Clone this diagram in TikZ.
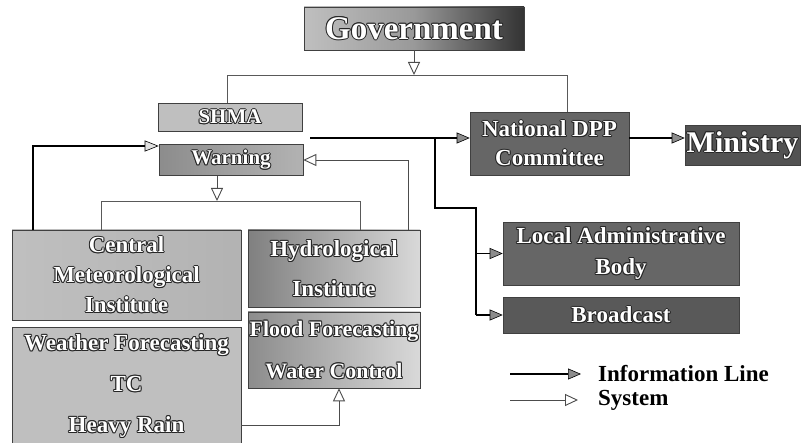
\documentclass[tikz,border=0pt]{standalone}
\usepackage{fontspec}
\setmainfont{Liberation Serif}
\usetikzlibrary{arrows.meta}
\newsavebox\embbox
\newcommand\embc[2]{\rlap{\kern#1\raisebox{#2}{\textcolor{black!85}{\usebox\embbox}}}}
\newcommand\emb[1]{\setbox\embbox\hbox{\bfseries #1}\embc{1pt}{0pt}\embc{-1pt}{0pt}\embc{0pt}{1pt}\embc{0pt}{-1pt}\embc{0.7pt}{0.7pt}\embc{-0.7pt}{0.7pt}\embc{0.7pt}{-0.7pt}\embc{-0.7pt}{-0.7pt}\textcolor{white}{\usebox\embbox}}
\newcommand\fs[2]{\fontsize{#1}{#2}\selectfont}
\tikzset{
  box/.style={draw=black!75, line width=0.6pt, align=center, inner sep=0pt},
  sysline/.style={draw=black!65, line width=0.9pt},
  sys/.style={draw=black!70, line width=0.9pt, -{Triangle[length=13pt,width=12pt,fill=white,line width=0.9pt]}},
  infoline/.style={draw=black, line width=1.3pt},
  info/.style={draw=black, line width=1.3pt, -{Triangle[length=13pt,width=11pt,fill=black!45,line width=0.6pt]}},
  infol/.style={draw=black, line width=1.3pt, -{Triangle[length=14pt,width=11pt,fill=black!12,line width=0.6pt]}},
  legend/.style={anchor=west, font=\fs{23}{26}\bfseries, text=black, inner sep=0pt}
}
\begin{document}
\begin{tikzpicture}[x=1pt,y=-1pt]
\useasboundingbox[fill=white] (0,0) rectangle (801,443);
% boxes
\node[box, minimum width=220pt, minimum height=43pt, left color=black!25, right color=black!80, middle color=black!40, font=\fs{33}{36}] (gov) at (414,28.5) {\emb{Government}};
\node[box, minimum width=144pt, minimum height=28pt, fill=black!25, font=\fs{21}{24}] (shma) at (230,117) {\emb{SHMA}};
\node[box, minimum width=144pt, minimum height=31pt, left color=black!45, right color=black!30, font=\fs{21}{24}] (warn) at (231,160) {\emb{Warning}};
\node[box, minimum width=229pt, minimum height=90pt, left color=black!25, middle color=black!50, right color=black!30, font=\fs{23}{30}] (cmi) at (126.5,275) {\emb{Central}\\\emb{Meteorological}\\\emb{Institute}};
\node[box, minimum width=229pt, minimum height=117pt, left color=black!25, middle color=black!55, right color=black!25, font=\fs{23}{41}] (wf) at (126.5,386) {\emb{Weather Forecasting}\\\emb{TC}\\\emb{Heavy Rain}};
\node[box, minimum width=172pt, minimum height=77pt, left color=black!50, right color=black!15, font=\fs{23}{40}] (hyd) at (334,268.5) {\emb{Hydrological}\\\emb{Institute}};
\node[box, minimum width=172pt, minimum height=76pt, left color=black!45, right color=black!15, font=\fs{22}{42}] (fl) at (334,350) {\emb{Flood Forecasting}\\\emb{Water Control}};
\node[box, minimum width=159pt, minimum height=63pt, fill=black!60, font=\fs{23}{29}] (nat) at (549.5,143.5) {\emb{National DPP}\\\emb{Committee}};
\node[box, minimum width=115pt, minimum height=40pt, fill=black!68, font=\fs{30}{32}] (min) at (742.5,145) {\emb{Ministry}};
\node[box, minimum width=236pt, minimum height=63pt, fill=black!60, font=\fs{23}{31}] (loc) at (621,253.5) {\emb{Local Administrative}\\\emb{Body}};
\node[box, minimum width=236pt, minimum height=36pt, fill=black!65, font=\fs{23}{26}] (bc) at (621,315) {\emb{Broadcast}};
% system lines
\coordinate (tl) at (227,75);
\coordinate (tr) at (567,75);
\draw[sysline] (tl |- shma.north) -- (tl) -- (tr) -- (tr |- nat.north);
\draw[sys] (gov.south) -- (gov.south |- tl);
\coordinate (wl) at (101,201);
\coordinate (wr) at (360,201);
\coordinate (wa) at (217,0);
\draw[sysline] (wl |- cmi.north) -- (wl) -- (wr) -- (wr |- hyd.north);
\draw[sys] (wa |- warn.south) -- (wa |- wl);
\coordinate (h1) at (408,160);
\draw[sys] (h1 |- hyd.north) -- (h1) -- (warn.east);
\coordinate (f1) at (339,425);
\draw[sys] (wf.east |- f1) -- (f1) -- (f1 |- fl.south);
% information lines
\coordinate (c1) at (33,146);
\draw[infol] (c1 |- cmi.north) -- (c1) -- (c1 -| warn.west);
\coordinate (s0) at (310,138);
\draw[info] (s0) -- (s0 -| nat.west);
\coordinate (b1) at (435,138);
\coordinate (b2) at (476,208);
\draw[infoline] (b1) -- (b1 |- b2) -- (b2) -- (b2 |- bc.west);
\draw[info] (b2 |- loc.west) -- (loc.west);
\draw[info] (b2 |- bc.west) -- (bc.west);
\draw[info] (nat.east |- s0) -- (min.west |- s0);
% legend
\coordinate (li1) at (510,374);
\coordinate (li2) at (581,374);
\coordinate (ls1) at (510,400);
\coordinate (ls2) at (578,400);
\draw[info] (li1) -- (li2);
\draw[sys] (ls1) -- (ls2);
\node[legend] (lt1) at (598,374) {Information Line};
\node[legend] (lt2) at (598,400) {System};
\end{tikzpicture}
\end{document}
